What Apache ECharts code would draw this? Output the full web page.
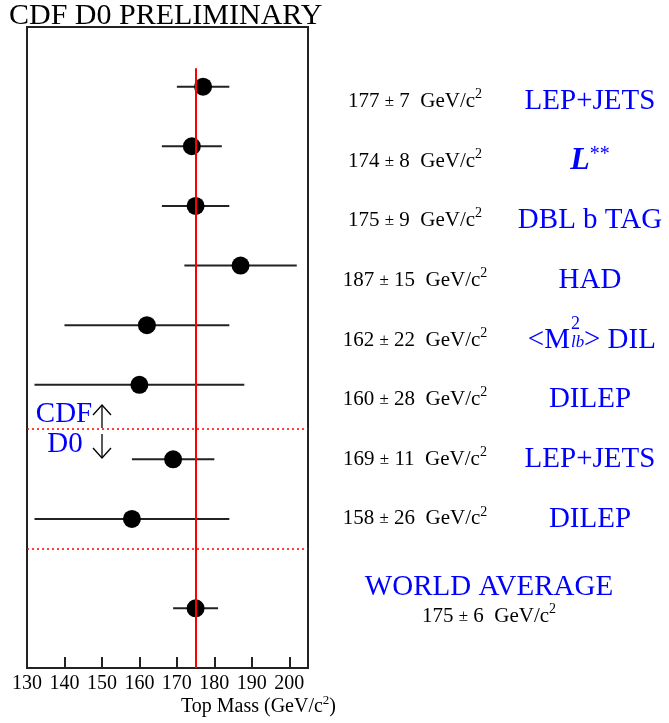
<!DOCTYPE html>
<html><head><meta charset="utf-8">
<script src="https://cdn.jsdelivr.net/npm/echarts@6/dist/echarts.min.js"></script>
<style>html,body{margin:0;padding:0;background:#fff}#c{width:669px;height:723px}</style>
</head><body><div id="c"></div>
<script>
const methods = ['LEP+JETS','L**','DBL b TAG','HAD','<M2lb> DIL','DILEP','LEP+JETS','DILEP','WORLD AVERAGE'];
const experiments = ['CDF','CDF','CDF','CDF','CDF','CDF','D0','D0','ALL'];
const masses = [177,174,175,187,162,160,169,158,175];
const errors = [7,8,9,15,22,28,11,26,6];
const rows = [1,2,3,4,5,6,7.25,8.25,9.75];
const xTicks = [130,140,150,160,170,180,190,200];
const worldAverage = 175;
const separators = [6.73, 8.75];

const FONT = "'Liberation Serif','Times New Roman',serif";
const BLUE = '#0000ff';

function valueText(i, x, y) {
  return {
    type: 'text',
    style: {
      x: x, y: y,
      text: masses[i] + ' {pm|±} ' + errors[i] + '  GeV/c{sup|2}',
      align: 'center', verticalAlign: 'middle',
      fontFamily: FONT, fontSize: 21, fill: '#000', lineHeight: 28,
      rich: {
        pm: {fontFamily: FONT, fontSize: 17, fill: '#000'},
        sup: {fontFamily: FONT, fontSize: 14, fill: '#000', verticalAlign: 'top'}
      }
    }
  };
}

function methodText(i, x, y) {
  const name = methods[i];
  if (name === 'L**') {
    return {
      type: 'text',
      style: {
        x: x, y: y, text: '{L|L}{s|**}', align: 'center', verticalAlign: 'middle',
        fontFamily: FONT, fontSize: 30, fill: BLUE,
        rich: {
          L: {fontFamily: FONT, fontSize: 32, fontStyle: 'italic', fontWeight: 'bold', fill: BLUE},
          s: {fontFamily: FONT, fontSize: 20, fill: BLUE, verticalAlign: 'top'}
        }
      }
    };
  }
  if (name === '<M2lb> DIL') {
    return {
      type: 'group',
      children: [
        {type: 'text', style: {x: x - 20, y: y, text: '<M', align: 'right', verticalAlign: 'middle', fontFamily: FONT, fontSize: 29, fill: BLUE}},
        {type: 'text', style: {x: x - 19, y: y - 16, text: '2', align: 'left', verticalAlign: 'middle', fontFamily: FONT, fontSize: 18, fill: BLUE}},
        {type: 'text', style: {x: x - 19, y: y + 2, text: 'lb', align: 'left', verticalAlign: 'middle', fontFamily: FONT, fontSize: 17, fontStyle: 'italic', fill: BLUE}},
        {type: 'text', style: {x: x - 6, y: y, text: '> DIL', align: 'left', verticalAlign: 'middle', fontFamily: FONT, fontSize: 29, fill: BLUE}}
      ]
    };
  }
  return {
    type: 'text',
    style: {x: x, y: y, text: name, align: 'center', verticalAlign: 'middle', fontFamily: FONT, fontSize: 29, fill: BLUE}
  };
}

function renderLabels(params, api) {
  const i = params.dataIndex;
  const valueX = 415, nameX = 590;
  if (experiments[i] === 'ALL') {
    const yName = api.coord([130, rows[i] - 0.36])[1];
    const yVal = api.coord([130, rows[i] + 0.13])[1];
    return {type: 'group', children: [
      {type: 'text', style: {x: 489, y: yName, text: methods[i], align: 'center', verticalAlign: 'middle', fontFamily: FONT, fontSize: 29, fill: BLUE}},
      valueText(i, 489, yVal)
    ]};
  }
  const y = api.coord([130, i + 1.25])[1];
  return {type: 'group', children: [valueText(i, valueX, y), methodText(i, nameX, y)]};
}

function renderErrorBar(params, api) {
  const p1 = api.coord([api.value(0), api.value(2)]);
  const p2 = api.coord([api.value(1), api.value(2)]);
  return {
    type: 'line',
    shape: {x1: p1[0], y1: p1[1], x2: p2[0], y2: p2[1]},
    style: {stroke: '#222', lineWidth: 2}
  };
}

const chart = echarts.init(document.getElementById('c'), null, {renderer: 'canvas'});
chart.setOption({
  animation: false,
  backgroundColor: '#fff',
  title: {
    text: 'CDF D0 PRELIMINARY', left: 9, top: 1, padding: 0,
    textStyle: {fontFamily: FONT, fontSize: 30, fontWeight: 'normal', color: '#000'}
  },
  grid: {left: 27, top: 27, width: 281, height: 641, show: true, borderColor: '#222', borderWidth: 2, backgroundColor: 'transparent'},
  xAxis: {
    type: 'value', min: 130, max: 205, position: 'bottom',
    axisLine: {show: false, onZero: false},
    axisTick: {show: true, inside: true, length: 11, customValues: xTicks, lineStyle: {color: '#222', width: 2}},
    axisLabel: {show: true, customValues: xTicks, margin: 6, fontFamily: FONT, fontSize: 20, color: '#000'},
    splitLine: {show: false}
  },
  yAxis: {
    type: 'value', min: 0, max: 10.75, inverse: true,
    axisLine: {show: false}, axisTick: {show: false}, axisLabel: {show: false}, splitLine: {show: false}
  },
  graphic: [
    {type: 'text', style: {x: 336, y: 707, text: 'Top Mass (GeV/c{sup|2})', align: 'right', verticalAlign: 'middle', fontFamily: FONT, fontSize: 20, fill: '#000', lineHeight: 26,
      rich: {sup: {fontFamily: FONT, fontSize: 13, fill: '#000', verticalAlign: 'top'}}}},
    {type: 'text', style: {x: 64, y: 414, text: 'CDF', align: 'center', verticalAlign: 'middle', fontFamily: FONT, fontSize: 29, fill: BLUE}},
    {type: 'text', style: {x: 65, y: 444, text: 'D0', align: 'center', verticalAlign: 'middle', fontFamily: FONT, fontSize: 29, fill: BLUE}},
    {type: 'line', shape: {x1: 102, y1: 405, x2: 102, y2: 428}, style: {stroke: '#000', lineWidth: 1.3}},
    {type: 'polyline', shape: {points: [[93, 415], [102, 405], [111, 415]]}, style: {stroke: '#000', lineWidth: 1.3, fill: null}},
    {type: 'line', shape: {x1: 102, y1: 434, x2: 102, y2: 458}, style: {stroke: '#000', lineWidth: 1.3}},
    {type: 'polyline', shape: {points: [[93, 448], [102, 458], [111, 448]]}, style: {stroke: '#000', lineWidth: 1.3, fill: null}}
  ],
  series: [
    {
      type: 'custom', name: 'errors', renderItem: renderErrorBar,
      encode: {x: [0, 1], y: 2},
      data: masses.map((m, i) => [m - errors[i], m + errors[i], rows[i]]),
      z: 2
    },
    {
      type: 'scatter', name: 'mass', symbol: 'circle', symbolSize: 18,
      itemStyle: {color: '#000', opacity: 1},
      data: masses.map((m, i) => [m, rows[i]]),
      z: 4,
      markLine: {
        silent: true, symbol: 'none', label: {show: false}, animation: false,
        data: [
          [{coord: [worldAverage, 0.69], lineStyle: {color: '#ff0000', width: 2, type: 'solid'}},
           {coord: [worldAverage, 10.75]}],
          ...separators.map(v => ({yAxis: v, lineStyle: {color: '#ff0000', width: 1.5, type: [2, 3]}}))
        ]
      }
    },
    {
      type: 'custom', name: 'labels', renderItem: renderLabels, clip: false, silent: true,
      encode: {x: 0, y: 1},
      data: masses.map((m, i) => [m, rows[i]]),
      z: 5
    }
  ]
});
</script>
</body></html>
